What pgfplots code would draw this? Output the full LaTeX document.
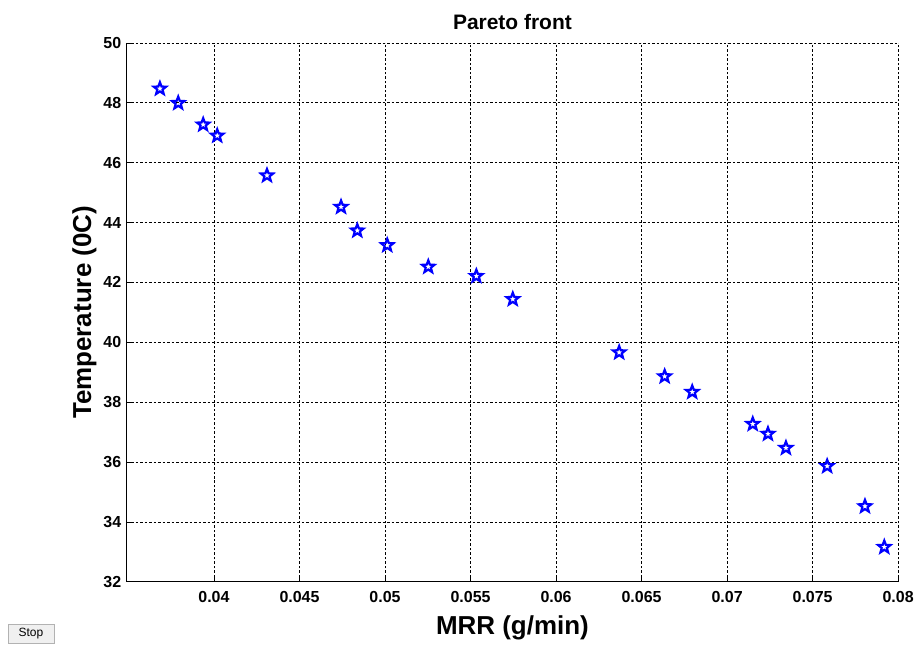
\documentclass[border=0pt]{standalone}
\usepackage{fontspec}
\setmainfont{Liberation Sans}
\usepackage{pgfplots}
\pgfplotsset{compat=1.18}

% five-pointed star outline, like MATLAB's pentagram marker
\pgfdeclareplotmark{pentagram}{%
  \pgfpathmoveto{\pgfqpointpolar{90}{\pgfplotmarksize}}%
  \pgfpathlineto{\pgfqpointpolar{126}{0.42\pgfplotmarksize}}%
  \pgfpathlineto{\pgfqpointpolar{162}{\pgfplotmarksize}}%
  \pgfpathlineto{\pgfqpointpolar{198}{0.42\pgfplotmarksize}}%
  \pgfpathlineto{\pgfqpointpolar{234}{\pgfplotmarksize}}%
  \pgfpathlineto{\pgfqpointpolar{270}{0.42\pgfplotmarksize}}%
  \pgfpathlineto{\pgfqpointpolar{306}{\pgfplotmarksize}}%
  \pgfpathlineto{\pgfqpointpolar{342}{0.42\pgfplotmarksize}}%
  \pgfpathlineto{\pgfqpointpolar{18}{\pgfplotmarksize}}%
  \pgfpathlineto{\pgfqpointpolar{54}{0.42\pgfplotmarksize}}%
  \pgfpathclose
  \pgfusepathqstroke
}

\begin{document}
\begin{tikzpicture}
\begin{axis}[
    scale only axis,
    width=773pt, height=540pt,
    xmin=0.0349, xmax=0.08,
    ymin=32, ymax=50,
    xtick={0.04,0.045,...,0.0801},
    ytick={32,34,...,50},
    xticklabels={0.04,0.045,0.05,0.055,0.06,0.065,0.07,0.075,0.08},
    scaled x ticks=false,
    /pgf/number format/assume math mode=true,
    tick label style={font=\fontsize{16}{18}\selectfont\bfseries},
    xticklabel style={yshift=-6pt},
    yticklabel style={xshift=-2pt},
    axis x line*=bottom, axis y line*=left,
    axis line style={-, line width=0.8pt},
    tick align=inside, major tick length=5pt,
    tick style={black, line width=0.6pt},
    grid=major,
    major grid style={black, dashed, dash pattern=on 2.5pt off 2pt, line width=0.6pt},
    title={\fontsize{21}{24}\selectfont\bfseries Pareto front},
    title style={at={(0.5,1)}, anchor=south, yshift=4pt},
    xlabel={\fontsize{26}{30}\selectfont\bfseries MRR (g/min)},
    ylabel={\fontsize{26}{30}\selectfont\bfseries Temperature (0C)},
    xlabel style={yshift=-6pt},
    ylabel style={yshift=0pt},
    clip=false,
]
\addplot[only marks, blue, mark=pentagram, mark size=6.5pt,
         mark options={line width=2.2pt, line join=miter}] coordinates {
(0.03684,48.47) (0.03791,47.99) (0.03937,47.27) (0.04019,46.90)
(0.04310,45.57) (0.04743,44.52) (0.04838,43.73) (0.05013,43.24)
(0.05253,42.52) (0.05534,42.21) (0.05747,41.44) (0.06369,39.66)
(0.06635,38.86) (0.06796,38.34) (0.07150,37.27) (0.07239,36.94)
(0.07344,36.47) (0.07585,35.86) (0.07806,34.52) (0.07919,33.16)
};
\end{axis}
\node[draw=gray!60, fill=gray!12, minimum width=46pt, minimum height=19pt,
      inner sep=0pt, font=\fontsize{12}{14}\selectfont]
  at ([shift={(-96pt,-52pt)}]current axis.south west) {Stop};
\path[use as bounding box] ([shift={(-127pt,-64pt)}]current axis.south west)
  rectangle ([shift={(17pt,43pt)}]current axis.north east);
\end{tikzpicture}
\end{document}
